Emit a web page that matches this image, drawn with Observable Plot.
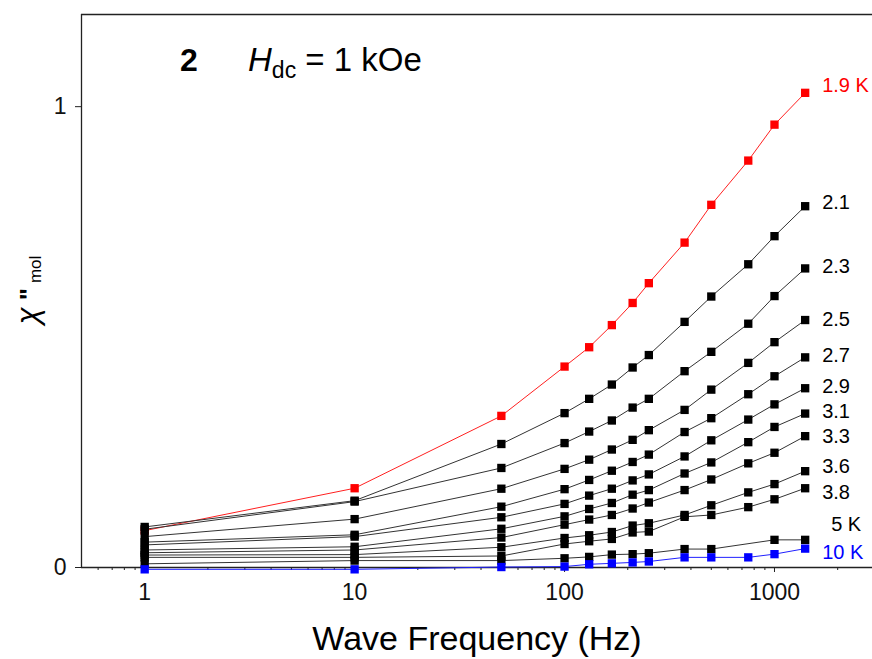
<!DOCTYPE html>
<html><head><meta charset="utf-8">
<script src="https://cdn.jsdelivr.net/npm/d3@7"></script>
<script src="https://cdn.jsdelivr.net/npm/@observablehq/plot@0.6"></script>
<style>
body{margin:0;background:#fff;}
#chart svg{display:block;}
</style>
</head><body><div id="chart"></div>
<script>
// ---- data ----
const frequencies = [1, 10, 50, 100, 131, 168, 211, 252, 373, 500, 750, 1000, 1400];
const seriesLabels = ["1.9 K", "2.1", "2.3", "2.5", "2.7", "2.9", "3.1", "3.3", "3.6", "3.8", "5 K", "10 K"];
const chi_1_9 = [0.080, 0.172, 0.329, 0.436, 0.478, 0.526, 0.574, 0.617, 0.705, 0.787, 0.883, 0.961, 1.030];
const chi_2_1 = [0.088, 0.145, 0.268, 0.335, 0.366, 0.397, 0.434, 0.461, 0.533, 0.588, 0.658, 0.719, 0.784];
const chi_2_3 = [0.083, 0.143, 0.216, 0.270, 0.295, 0.319, 0.347, 0.366, 0.426, 0.468, 0.529, 0.589, 0.649];
const chi_2_5 = [0.067, 0.105, 0.171, 0.214, 0.234, 0.256, 0.277, 0.298, 0.342, 0.386, 0.444, 0.489, 0.537];
const chi_2_7 = [0.055, 0.071, 0.132, 0.170, 0.190, 0.210, 0.229, 0.245, 0.294, 0.324, 0.376, 0.415, 0.456];
const chi_2_9 = [0.049, 0.067, 0.109, 0.138, 0.156, 0.171, 0.189, 0.202, 0.241, 0.276, 0.321, 0.354, 0.389];
const chi_3_1 = [0.038, 0.045, 0.084, 0.111, 0.127, 0.140, 0.158, 0.168, 0.204, 0.228, 0.272, 0.305, 0.334];
const chi_3_3 = [0.032, 0.038, 0.065, 0.093, 0.104, 0.114, 0.128, 0.141, 0.168, 0.191, 0.226, 0.249, 0.285];
const chi_3_6 = [0.027, 0.028, 0.044, 0.064, 0.070, 0.077, 0.091, 0.096, 0.114, 0.135, 0.163, 0.181, 0.209];
const chi_3_8 = [0.022, 0.022, 0.025, 0.051, 0.057, 0.062, 0.076, 0.078, 0.110, 0.114, 0.131, 0.148, 0.172];
const chi_5 = [0.008, 0.015, 0.015, 0.020, 0.023, 0.028, 0.029, 0.031, 0.040, 0.040, null, 0.060, 0.060];
const chi_10 = [-0.004, -0.004, 0.001, 0.002, 0.007, 0.009, 0.011, 0.013, 0.022, 0.022, 0.022, 0.029, 0.041];
const xTickValues = [1, 10, 100, 1000];
const yTickValues = [0, 1];

const allSeries = [chi_1_9, chi_2_1, chi_2_3, chi_2_5, chi_2_7, chi_2_9, chi_3_1, chi_3_3, chi_3_6, chi_3_8, chi_5, chi_10];

// ---- build table ----
const colorOf = (label) => label === "1.9 K" ? "#ff0000" : label === "10 K" ? "#0000ff" : "#000000";
const lineColorOf = (label) => label === "1.9 K" ? "#ff2020" : label === "10 K" ? "#2020ff" : "#333333";
const rows = [];
allSeries.forEach((vals, i) => {
  vals.forEach((v, j) => {
    if (v !== null) rows.push({series: seriesLabels[i], freq: frequencies[j], chi: v});
  });
});
const lastRows = seriesLabels.map(s => rows.filter(r => r.series === s).slice(-1)[0]);

const minorTicks = [];
for (let e = -1; e <= 3; e++) for (let m = 2; m <= 9; m++) {
  const v = m * Math.pow(10, e);
  if (v > 0.5 && v < 2930) minorTicks.push(v);
}

// label nudges (pixels) to mimic the reference's hand placement
const nudgeY = {"1.9 K": -7, "2.1": -4, "2.3": -2, "2.5": 0, "2.7": -2, "2.9": -2, "3.1": -2, "3.3": 0, "3.6": -5, "3.8": 4, "5 K": -15, "10 K": 4};
const nudgeX = {"5 K": 9};

const font = "'Liberation Sans', Arial, Helvetica, sans-serif";

const svg = Plot.plot({
  width: 872,
  height: 659,
  marginLeft: 81,
  marginRight: 0,
  marginTop: 14,
  marginBottom: 92,
  style: {fontFamily: font, background: "#fff", overflow: "visible"},
  x: {type: "log", domain: [0.5, 2930]},
  y: {domain: [0, 1.2]},
  color: {type: "identity"},
  marks: [
    Plot.ruleY([0], {stroke: "#222", strokeWidth: 1.3}),
    Plot.ruleY([1.2], {stroke: "#222", strokeWidth: 1.3}),
    Plot.ruleX([0.5], {stroke: "#222", strokeWidth: 1.3}),
    Plot.axisX(minorTicks, {tickSize: 3, tickFormat: () => "", label: null, stroke: "#222"}),
    Plot.axisX(xTickValues, {tickSize: 5, tickPadding: 11, fontSize: 23, tickFormat: d => String(d), label: null, stroke: "#222", fill: "#111"}),
    Plot.axisY(yTickValues, {tickSize: 6, tickPadding: 9, fontSize: 23, tickFormat: d => String(d), label: null, stroke: "#222", fill: "#111"}),
    Plot.line(rows, {x: "freq", y: "chi", z: "series", stroke: d => lineColorOf(d.series), strokeWidth: 1}),
    Plot.dot(rows, {x: "freq", y: "chi", fill: d => colorOf(d.series), symbol: "square", r: 4.7, stroke: "none"}),
    ...lastRows.map(d => Plot.text([d], {
      x: "freq", y: "chi", text: "series", textAnchor: "start",
      dx: 17 + (nudgeX[d.series] || 0), dy: nudgeY[d.series],
      fill: colorOf(d.series), fontSize: 20
    }))
  ]
});

const s = d3.select(svg);
// panel title
const t = s.append("text").attr("x", 180).attr("y", 71).attr("text-anchor", "start")
  .attr("font-family", font).attr("fill", "#000");
t.append("tspan").attr("font-weight", "bold").attr("font-size", 32).text("2");
t.append("tspan").attr("x", 248).attr("font-style", "italic").attr("font-size", 33).text("H");
t.append("tspan").attr("font-size", 23).attr("dy", 7).text("dc");
t.append("tspan").attr("font-size", 33).attr("dy", -7).text(" = 1 kOe");

// y-axis title
const yl = s.append("text").attr("transform", "translate(38,290) rotate(-90)")
  .attr("text-anchor", "middle").attr("font-family", font).attr("fill", "#000");
yl.append("tspan").attr("font-style", "italic").attr("font-size", 31).text("χ");
yl.append("tspan").attr("font-size", 26).attr("font-weight", "bold").text(" \"");
yl.append("tspan").attr("font-size", 17).attr("dy", 3).text(" mol");

// x-axis title
s.append("text").attr("x", 477).attr("y", 650).attr("text-anchor", "middle")
  .attr("font-family", font).attr("font-size", 34).attr("fill", "#000").text("Wave Frequency (Hz)");

document.getElementById("chart").appendChild(svg);
</script>
</body></html>
